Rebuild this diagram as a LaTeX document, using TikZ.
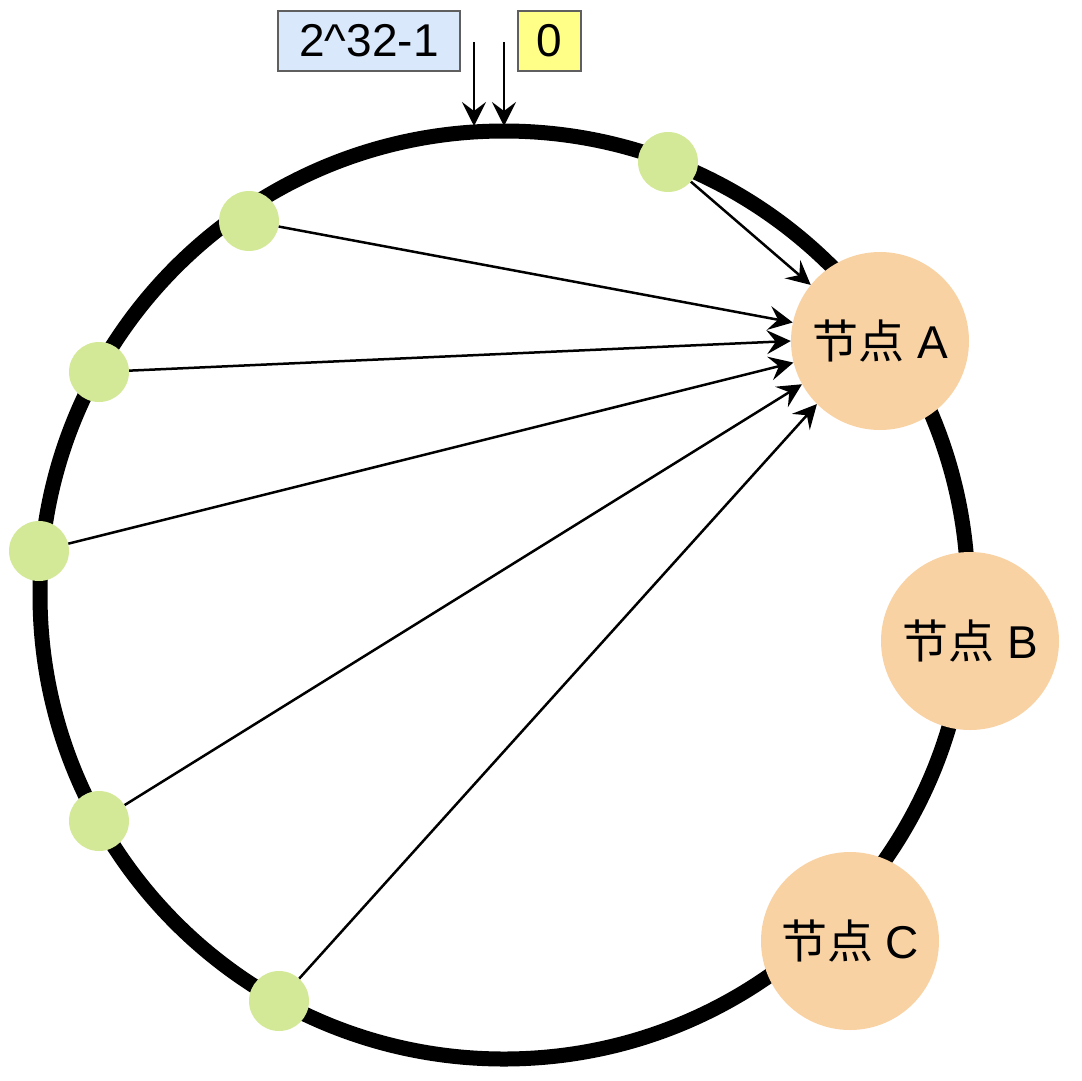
\documentclass[tikz,border=0pt]{standalone}
\usepackage{fontspec}
\setmainfont{Liberation Sans}
\newfontfamily\cjk{Noto Sans CJK SC}
\usetikzlibrary{arrows.meta,positioning}
\definecolor{dotgreen}{HTML}{D3E997}
\definecolor{nodeorange}{HTML}{F9D2A4}
\definecolor{boxblue}{HTML}{DAE8FC}
\definecolor{boxyellow}{HTML}{FFFF88}
\definecolor{boxline}{HTML}{5F5F5F}

\begin{document}
\begin{tikzpicture}[x=1pt,y=-1pt,
    every node/.style={font=\fontsize{46}{54}\selectfont},
    ring/.style={circle,draw,line width=15pt,minimum size=928pt,inner sep=0pt},
    key/.style={circle,fill=dotgreen,minimum size=60pt,inner sep=0pt},
    server/.style={circle,fill=nodeorange,minimum size=178pt,inner sep=0pt},
    endbox/.style={draw=boxline,line width=2pt,minimum height=60pt,inner sep=0pt},
    hash/.style={-{Stealth[length=24pt,width=24pt,inset=9pt]},line width=2.5pt}]
    \useasboundingbox (0,0) rectangle (1082,1080);

    \node[ring] (ring) at (504,595) {};

    \node[endbox,fill=boxblue,minimum width=182pt] (max) at (369,41) {2\textasciicircum32-1};
    \node[endbox,fill=boxyellow,minimum width=63pt] (zero) at (549.5,41) {0};
    \coordinate (m_0) at (474,42);
    \coordinate (m_1) at (474,126);
    \coordinate (z_0) at (504,42);
    \coordinate (z_1) at (504,126);

    \node[server] (A) at (880,341) {{\cjk 节点} A};
    \node[server] (B) at (970,641) {{\cjk 节点} B};
    \node[server] (C) at (850,941) {{\cjk 节点} C};

    \node[key] (p_1) at (668,162) {};
    \node[key] (p_2) at (249,221) {};
    \node[key] (p_3) at (99,372) {};
    \node[key] (p_4) at (39,551) {};
    \node[key] (p_5) at (99,821) {};
    \node[key] (p_6) at (279,1001) {};

    \path[hash]
    (m_0) edge (m_1)
    (z_0) edge (z_1)
    (p_1) edge (A.141)
    (p_2) edge (A.168)
    (p_3) edge (A.180)
    (p_4) edge (A.194)
    (p_5) edge (A.209)
    (p_6) edge (A.225);
\end{tikzpicture}
\end{document}
